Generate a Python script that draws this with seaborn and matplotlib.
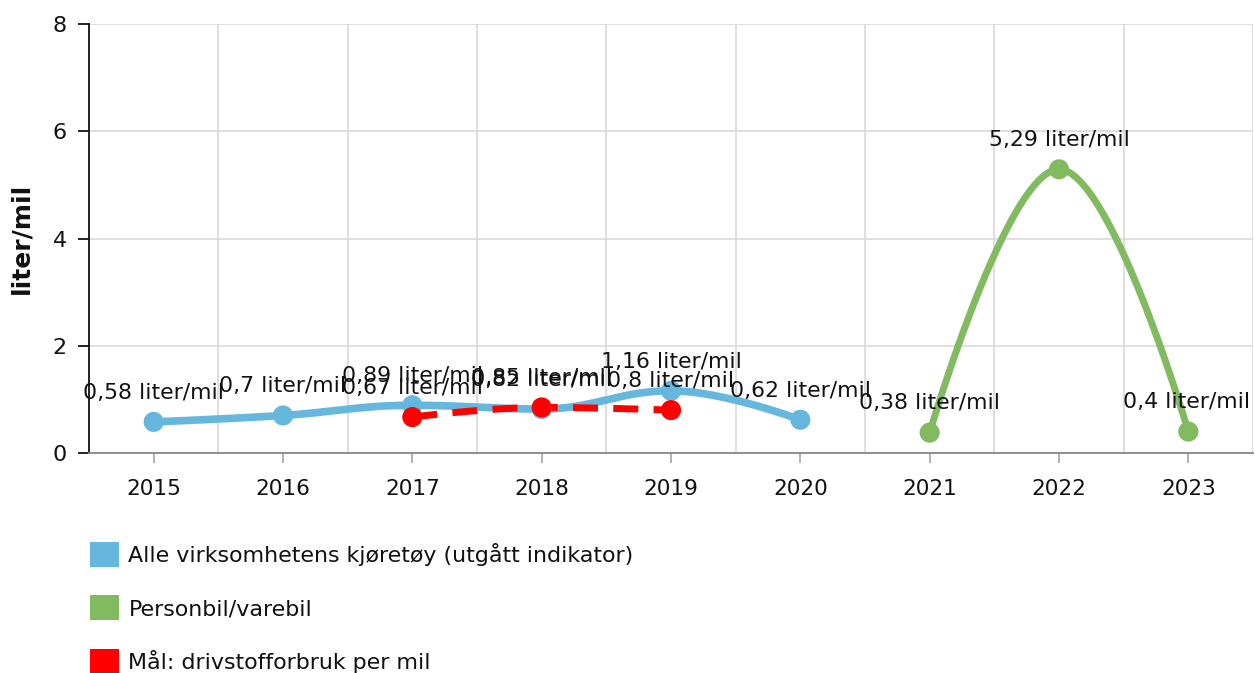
import numpy as np
import pandas as pd
import matplotlib
matplotlib.use("Agg")
import matplotlib.pyplot as plt
from matplotlib.patches import Patch
import matplotlib.transforms as mtransforms
import seaborn as sns

# ---------------- data ----------------
years = ["2015", "2016", "2017", "2018", "2019", "2020", "2021", "2022", "2023"]
blue_years = ["2015", "2016", "2017", "2018", "2019", "2020"]
blue_vals = [0.58, 0.7, 0.89, 0.82, 1.16, 0.62]
green_years = ["2021", "2022", "2023"]
green_vals = [0.38, 5.29, 0.4]
red_years = ["2017", "2018", "2019"]
red_vals = [0.67, 0.85, 0.8]
series_names = ["Alle virksomhetens kjøretøy (utgått indikator)",
                "Personbil/varebil",
                "Mål: drivstofforbruk per mil"]
y_ticks = [0, 2, 4, 6, 8]
unit = "liter/mil"

BLUE = "#66b7de"
GREEN = "#82ba5f"
RED = "#ff0000"


def spline(xs, ys, n=60):
    """Highcharts-style spline (bezier with smoothing 1.5)."""
    xs = list(map(float, xs)); ys = list(map(float, ys))
    sm = 1.5; den = sm + 1
    m = len(xs)
    rc = [(xs[i], ys[i]) for i in range(m)]
    lc = [(xs[i], ys[i]) for i in range(m)]
    for i in range(1, m - 1):
        px, py = xs[i], ys[i]
        lx, ly = xs[i - 1], ys[i - 1]
        nx, ny = xs[i + 1], ys[i + 1]
        lcx = (sm * px + lx) / den; lcy = (sm * py + ly) / den
        rcx = (sm * px + nx) / den; rcy = (sm * py + ny) / den
        corr = 0.0
        if rcx != lcx:
            corr = ((rcy - lcy) * (rcx - px)) / (rcx - lcx) + py - rcy
        lcy += corr; rcy += corr
        if lcy > ly and lcy > py:
            lcy = max(ly, py); rcy = 2 * py - lcy
        elif lcy < ly and lcy < py:
            lcy = min(ly, py); rcy = 2 * py - lcy
        if rcy > ny and rcy > py:
            rcy = max(ny, py); lcy = 2 * py - rcy
        elif rcy < ny and rcy < py:
            rcy = min(ny, py); lcy = 2 * py - rcy
        lc[i] = (lcx, lcy); rc[i] = (rcx, rcy)
    out_x, out_y = [xs[0]], [ys[0]]
    t = np.linspace(0, 1, n)[1:]
    for i in range(1, m):
        p0 = np.array([xs[i - 1], ys[i - 1]])
        p1 = np.array(rc[i - 1]); p2 = np.array(lc[i]); p3 = np.array([xs[i], ys[i]])
        pts = ((1 - t) ** 3)[:, None] * p0 + (3 * (1 - t) ** 2 * t)[:, None] * p1 \
            + (3 * (1 - t) * t ** 2)[:, None] * p2 + (t ** 3)[:, None] * p3
        out_x.extend(pts[:, 0]); out_y.extend(pts[:, 1])
    return np.array(out_x), np.array(out_y)


sns.set_theme(style="white")
plt.rcParams["font.family"] = ["DejaVu Sans"]

fig = plt.figure(figsize=(12.55, 6.73), dpi=100)
ax = fig.add_axes([89 / 1255, 1 - 453 / 673, (1253 - 89) / 1255, (453 - 24) / 673])

pos = {y: i for i, y in enumerate(years)}

def fmt(v):
    return f"{v:g}".replace(".", ",") + " " + unit

series = [
    (blue_years, blue_vals, BLUE, "-", 5.5),
    (red_years, red_vals, RED, (0, (3.6, 2.2)), 5.0),
    (green_years, green_vals, GREEN, "-", 5.0),
]
order = [0, 2, 1]
for k in order:
    yrs, vals, col, ls, lw = series[k]
    xs = [pos[y] for y in yrs]
    sx, sy = spline(xs, vals)
    df = pd.DataFrame({"x": sx, "y": sy})
    sns.lineplot(data=df, x="x", y="y", sort=False, estimator=None, ax=ax,
                 color=col, linewidth=lw, linestyle=ls if isinstance(ls, str) else "-",
                 zorder=3 + k)
    if not isinstance(ls, str):
        ax.lines[-1].set_linestyle(ls)
    dfp = pd.DataFrame({"x": xs, "y": vals})
    sns.scatterplot(data=dfp, x="x", y="y", ax=ax, color=col, s=210,
                    edgecolor="none", zorder=6 + k, legend=False)

# data labels
for k in [0, 2, 1]:
    yrs, vals, col, ls, lw = series[k]
    for y, v in zip(yrs, vals):
        x = pos[y]
        if x == len(years) - 1:
            trans = mtransforms.blended_transform_factory(ax.transAxes, ax.transData)
            ax.annotate(fmt(v), xy=(1.0, v), xycoords=trans, xytext=(-2, 21),
                        textcoords="offset points", ha="right", va="center",
                        fontsize=15.8, color="#111111", zorder=10, annotation_clip=False)
        else:
            ax.annotate(fmt(v), xy=(x, v), xytext=(0, 21), textcoords="offset points",
                        ha="center", va="center", fontsize=15.8, color="#111111",
                        zorder=10, annotation_clip=False)

ax.set_xlim(-0.5, len(years) - 0.5)
ax.set_ylim(0, 8)
ax.set_xticks(range(len(years)))
ax.set_xticklabels(years)
ax.set_xticks(np.arange(-0.5, len(years)), minor=True)
ax.set_yticks(y_ticks)
ax.set_yticklabels([str(t) for t in y_ticks])
ax.grid(True, which="minor", axis="x", color="#d9d9d9", linewidth=1.2, zorder=0)
ax.grid(True, which="major", axis="y", color="#d9d9d9", linewidth=1.2, zorder=0)
ax.grid(False, which="major", axis="x")
ax.set_axisbelow(True)
for s in ["top", "right"]:
    ax.spines[s].set_visible(False)
ax.spines["left"].set_color("#111111")
ax.spines["left"].set_linewidth(1.3)
ax.spines["bottom"].set_color("#888888")
ax.spines["bottom"].set_linewidth(1.3)
ax.tick_params(axis="y", which="major", left=True, length=8, width=1.3, color="#111111",
               labelsize=16, labelcolor="#111111", pad=8)
ax.tick_params(axis="x", which="major", bottom=True, length=7, width=1.3, color="#aaaaaa",
               labelsize=15.6, labelcolor="#111111", pad=12)
ax.tick_params(axis="x", which="minor", bottom=False)
ax.set_xlabel("")
ax.set_ylabel(unit, fontsize=18, fontweight="bold", color="#111111", labelpad=14)

handles = [Patch(facecolor=c, edgecolor="none") for c in [BLUE, GREEN, RED]]
fig.legend(handles, series_names, loc="upper left", bbox_to_anchor=(81 / 1255, 1 - 533 / 673),
           frameon=False, fontsize=15.9, handlelength=1.3, handleheight=1.35,
           handletextpad=0.45, labelspacing=1.3, borderaxespad=0, labelcolor="#111111")

fig.savefig("out.png", dpi=100)
